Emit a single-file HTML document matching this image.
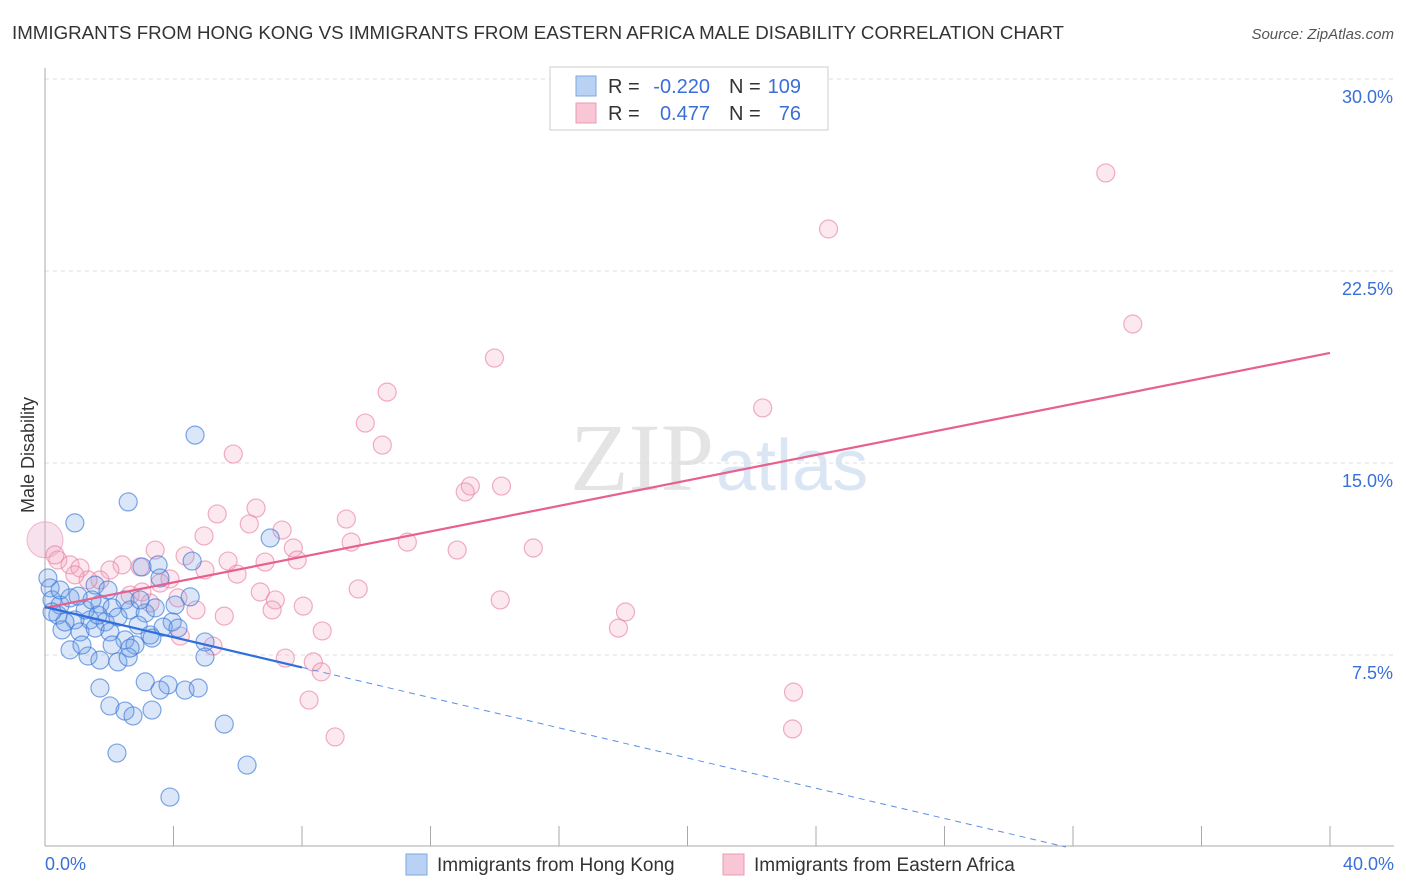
<!DOCTYPE html>
<html><head><meta charset="utf-8"><style>
body{margin:0;background:#fff;font-family:"Liberation Sans",sans-serif;}
#wrap{position:relative;width:1406px;height:892px;overflow:hidden;}
</style></head><body>
<div id="wrap">
<svg id="svg" width="1406" height="892" xmlns="http://www.w3.org/2000/svg">
<text x="12" y="39" font-size="18" fill="#333" textLength="1052" lengthAdjust="spacingAndGlyphs">IMMIGRANTS FROM HONG KONG VS IMMIGRANTS FROM EASTERN AFRICA MALE DISABILITY CORRELATION CHART</text>
<text x="1394" y="39" font-size="15" fill="#555" font-style="italic" text-anchor="end">Source: ZipAtlas.com</text>
<text x="714" y="490" font-size="96" fill="#e4e4e4" text-anchor="end" font-family="Liberation Serif">ZIP</text>
<text x="716" y="490" font-size="72" fill="#dbe6f5">atlas</text>
<text transform="translate(34,455) rotate(-90)" font-size="18" fill="#333" text-anchor="middle">Male Disability</text>
<g id="grid"></g><g id="pts"></g><g id="trend"></g>
<g>
<rect x="550" y="67" width="278" height="63" fill="#fff" stroke="#ccc"/>
<rect x="576" y="76" width="20" height="20" fill="#b9d1f3" stroke="#7fa7e0"/>
<rect x="576" y="103" width="20" height="20" fill="#f8c6d5" stroke="#eb9ab5"/>
<text x="608" y="93" font-size="20" fill="#333">R =</text>
<text x="710" y="93" font-size="20" fill="#3a6fd8" text-anchor="end">-0.220</text>
<text x="729" y="93" font-size="20" fill="#333">N =</text>
<text x="801" y="93" font-size="20" fill="#3a6fd8" text-anchor="end">109</text>
<text x="608" y="120" font-size="20" fill="#333">R =</text>
<text x="710" y="120" font-size="20" fill="#3a6fd8" text-anchor="end">0.477</text>
<text x="729" y="120" font-size="20" fill="#333">N =</text>
<text x="801" y="120" font-size="20" fill="#3a6fd8" text-anchor="end">76</text>
</g>
<g>
<rect x="406" y="854" width="21" height="21" fill="#b9d1f3" stroke="#7fa7e0"/>
<text x="437" y="871" font-size="19" fill="#333">Immigrants from Hong Kong</text>
<rect x="723" y="854" width="21" height="21" fill="#f8c6d5" stroke="#eb9ab5"/>
<text x="754" y="871" font-size="19" fill="#333">Immigrants from Eastern Africa</text>
</g>
</svg>
<script>
const yTicks=[7.5,15,22.5,30];
const yTickLabels=["7.5%","15.0%","22.5%","30.0%"];
const xTickVals=[0,4,8,12,16,20,24,28,32,36,40];
const blueX=[4.67,2.59,0.93,7.01,4.58,3.52,3.02,0.09,0.16,1.56,2.49,3.58,4.05,4.52,0.22,0.47,0.78,1.71,2.09,2.65,3.12,3.43,0.40,0.93,1.40,1.87,2.27,2.90,3.27,3.96,0.53,1.09,1.56,2.02,2.49,2.80,3.33,4.98,0.78,1.34,1.71,2.27,2.59,4.98,1.71,3.12,3.83,3.58,4.36,4.77,2.02,2.49,2.74,3.33,5.58,2.24,6.29,3.89,1.25,0.62,0.22,1.15,2.96,1.96,1.46,1.65,2.09,2.65,3.68,4.14,0.47,1.03];
const blueY=[16.09,13.48,12.66,12.07,11.17,11.02,10.94,10.51,10.12,10.23,9.65,10.51,9.45,9.77,9.65,9.45,9.73,9.49,9.34,9.26,9.14,9.34,9.06,8.87,8.87,8.79,8.98,8.67,8.28,8.79,8.48,8.40,8.55,8.40,8.09,7.89,8.16,8.01,7.70,7.46,7.30,7.23,7.42,7.42,6.21,6.45,6.33,6.13,6.13,6.21,5.51,5.31,5.12,5.35,4.80,3.67,3.20,1.95,9.26,8.79,9.18,7.89,9.65,10.04,9.65,9.06,7.89,7.77,8.59,8.55,10.04,9.80];
const pinkX=[33.02,24.39,33.86,13.99,10.65,22.34,9.97,10.50,5.86,13.24,14.21,13.08,6.57,5.36,9.38,6.36,7.38,4.95,9.53,11.28,12.83,15.20,3.43,7.73,4.36,5.70,7.85,6.85,2.40,2.96,0.40,0.78,1.09,2.02,4.98,5.98,3.89,3.58,1.71,1.34,9.75,6.70,4.14,7.17,8.04,14.17,7.07,5.58,4.70,18.07,17.85,8.63,4.21,5.23,7.48,8.35,8.60,23.30,8.22,9.03,23.27,0.31,0.93,2.65,3.27,3.02];
const pinkY=[26.33,24.14,20.43,19.10,17.77,17.15,16.56,15.70,15.35,14.10,14.10,13.87,13.24,13.01,12.81,12.62,12.38,12.15,11.91,11.91,11.60,11.68,11.60,11.68,11.37,11.17,11.21,11.13,11.02,10.94,11.21,11.02,10.90,10.82,10.82,10.66,10.47,10.31,10.43,10.43,10.08,9.96,9.73,9.65,9.41,9.65,9.26,9.02,9.26,9.18,8.55,8.44,8.24,7.85,7.38,7.23,6.84,6.05,5.74,4.30,4.61,11.41,10.63,9.84,9.53,9.96];
const blueTrend=[9.375,-0.295];
const pinkTrend=[9.34,0.249];
const NS="http://www.w3.org/2000/svg";
function xs(v){return 45+v*32.125;}
function ys(v){return 847-v*25.6;}
function mk(t,a,p){const e=document.createElementNS(NS,t);for(const k in a)e.setAttribute(k,a[k]);p.appendChild(e);return e;}
const grid=document.getElementById('grid');
yTicks.forEach((v,i)=>{
 const l=mk('line',{x1:45,x2:1394,y1:ys(v),y2:ys(v),stroke:'#ddd','stroke-dasharray':'4,4'},grid);
 
 
 const t=mk('text',{x:1393,y:ys(v)+24,'font-size':18,fill:'#3a6fd8','text-anchor':'end'},grid);
 t.textContent=yTickLabels[i];
 
 
});
const ax=mk('line',{x1:45,x2:45,y1:68,y2:846,stroke:'#aaa'},grid);


const bx=mk('line',{x1:45,x2:1394,y1:846,y2:846,stroke:'#aaa'},grid);


xTickVals.forEach(v=>{
 const t=mk('line',{x1:xs(v),x2:xs(v),y1:826,y2:846,stroke:'#aaa'},grid);
 
 
});
const xl0=mk('text',{x:45,y:870,'font-size':18,fill:'#3a6fd8'},grid);xl0.textContent='0.0%';


const xl1=mk('text',{x:1394,y:870,'font-size':18,fill:'#3a6fd8','text-anchor':'end'},grid);xl1.textContent='40.0%';


const pts=document.getElementById('pts');
const big=mk('circle',{cx:xs(0),cy:ys(12),r:18,fill:'rgba(230,170,200,0.35)',stroke:'rgba(232,140,175,0.6)'},pts);


pinkX.forEach((x,i)=>{
 const c=mk('circle',{cx:xs(x),cy:ys(pinkY[i]),r:9,fill:'rgba(245,165,190,0.25)',stroke:'rgba(232,130,165,0.65)','stroke-width':1.2},pts);
 
 
});
blueX.forEach((x,i)=>{
 const c=mk('circle',{cx:xs(x),cy:ys(blueY[i]),r:9,fill:'rgba(110,160,230,0.25)',stroke:'rgba(60,120,215,0.65)','stroke-width':1.2},pts);
 
 
});
const tr=document.getElementById('trend');
const pl=mk('line',{x1:xs(0),y1:ys(pinkTrend[0]),x2:xs(40),y2:ys(pinkTrend[0]+40*pinkTrend[1]),stroke:'#e8608e','stroke-width':2.2},tr);


const bl=mk('line',{x1:xs(0),y1:ys(blueTrend[0]),x2:xs(8),y2:ys(blueTrend[0]+8*blueTrend[1]),stroke:'#2f6fdc','stroke-width':2.2},tr);


const xe=-blueTrend[0]/blueTrend[1];
const bd=mk('line',{x1:xs(8),y1:ys(blueTrend[0]+8*blueTrend[1]),x2:xs(xe),y2:ys(0),stroke:'#5b8fe0','stroke-width':1,'stroke-dasharray':'6,5'},tr);


</script>
</div>
</body></html>
